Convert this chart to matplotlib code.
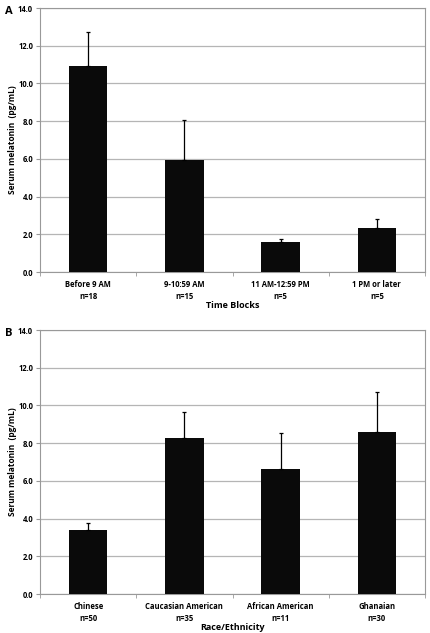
import matplotlib.pyplot as plt
import numpy as np

plt.rcParams['font.family'] = ['Open Sans', 'DejaVu Sans']

time_labels = ['Before 9 AM\nn=18', '9-10:59 AM\nn=15', '11 AM-12:59 PM\nn=5', '1 PM or later\nn=5']
time_means = [10.95, 5.92, 1.57, 2.35]
time_err = [1.80, 2.14, 0.16, 0.46]

race_labels = ['Chinese\nn=50', 'Caucasian American\nn=35', 'African American\nn=11', 'Ghanaian\nn=30']
race_means = [3.41, 8.27, 6.65, 8.61]
race_err = [0.34, 1.40, 1.87, 2.09]

W, H = 430, 633
fig = plt.figure(figsize=(W / 100, H / 100), dpi=100)

def panel(bottom_px, top_px, labels, means, errs, xlabel, letter):
    ax = fig.add_axes([40 / W, 1 - bottom_px / H, (425 - 40) / W, (bottom_px - top_px) / H])
    x = np.arange(len(means))
    ax.bar(x, means, width=0.4, color='#0a0a0a', zorder=3)
    ax.errorbar(x, means, yerr=[np.zeros(len(errs)), errs], fmt='none',
                ecolor='black', elinewidth=0.9, capsize=1.5, capthick=0.9, zorder=4)
    ax.set_xlim(-0.5, len(means) - 0.5)
    ax.set_ylim(0, 14)
    ax.set_yticks(np.arange(0, 14.1, 2))
    ax.set_yticklabels([f'{v:.1f}' for v in np.arange(0, 14.1, 2)], fontsize=5.5, fontweight='bold')
    ax.set_xticks(x)
    ax.set_xticklabels(labels, fontsize=5.5, fontweight='bold', linespacing=1.35)
    ax.set_xticks(np.arange(-0.5, len(means), 1), minor=True)
    ax.tick_params(axis='x', which='major', length=0, pad=6)
    ax.tick_params(axis='x', which='minor', length=3, color='#999999', direction='out')
    ax.tick_params(axis='y', length=3, color='#999999', pad=2)
    ax.grid(axis='y', color='#b5b5b5', linewidth=0.9, zorder=0)
    for s in ax.spines.values():
        s.set_color('#999999')
        s.set_linewidth(0.8)
    ax.set_ylabel('Serum melatonin  (pg/mL)', fontsize=6, fontweight='bold', labelpad=1)
    ax.set_xlabel(xlabel, fontsize=6.5, fontweight='bold', labelpad=0.5)
    fig.text(5 / W, 1 - (top_px + 3) / H, letter, fontsize=8, fontweight='bold', va='center', ha='left')
    return ax

panel(272, 8, time_labels, time_means, time_err, 'Time Blocks', 'A')
panel(594, 330, race_labels, race_means, race_err, 'Race/Ethnicity', 'B')

fig.savefig('out.png', dpi=100)
